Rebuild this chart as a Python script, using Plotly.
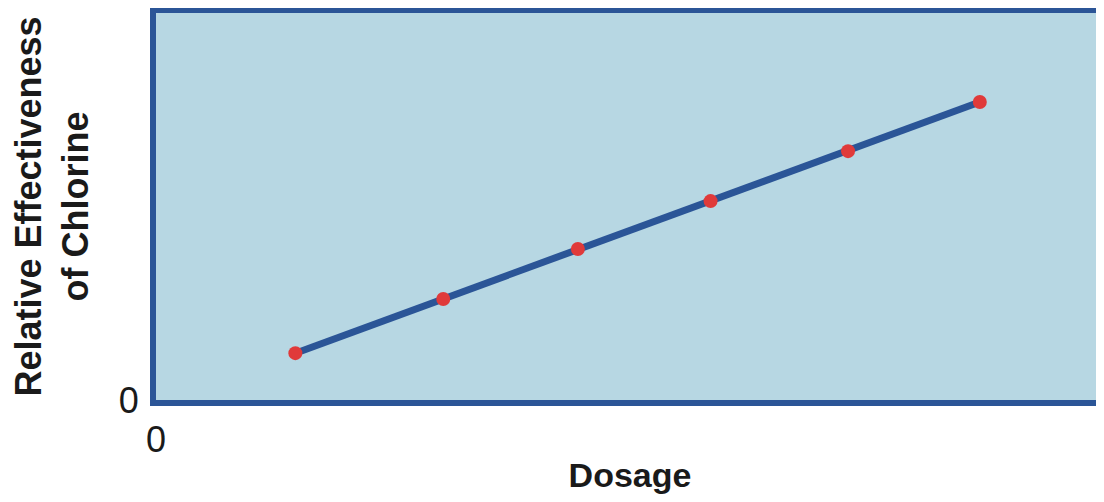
import plotly.graph_objects as go

dosage = [1.47, 3.03, 4.45, 5.85, 7.30, 8.69]
effectiveness = [1.21, 2.61, 3.90, 5.14, 6.43, 7.70]
x_tick_vals = [0]
x_tick_text = ["0"]
y_tick_vals = [0]
y_tick_text = ["0"]

BLUE = "#2b5597"
RED = "#e03a3a"
FILL = "#b7d7e3"
TEXT = "#1a1a1a"

fig = go.Figure()
fig.add_trace(go.Scatter(
    x=dosage, y=effectiveness, mode="lines+markers",
    line=dict(color=BLUE, width=7),
    marker=dict(color=RED, size=14),
    showlegend=False, hoverinfo="skip",
))

fig.update_layout(
    width=1096, height=486,
    margin=dict(l=148, r=0, t=5, b=94, autoexpand=False),
    paper_bgcolor="white", plot_bgcolor=FILL,
    font=dict(family="Liberation Sans, Arial, sans-serif", color=TEXT),
    xaxis=dict(
        range=[0, 10], showgrid=False, zeroline=False,
        showline=True, linecolor=BLUE, linewidth=6, mirror=True,
        tickvals=x_tick_vals, ticktext=x_tick_text,
        ticks="outside", ticklen=3, tickcolor="rgba(0,0,0,0)",
        tickfont=dict(size=36, color=TEXT),
        title=dict(text="<b>Dosage</b>", font=dict(size=34, color=TEXT), standoff=8),
        automargin=False,
    ),
    yaxis=dict(
        range=[0, 10], showgrid=False, zeroline=False,
        showline=True, linecolor=BLUE, linewidth=6, mirror=False,
        tickvals=y_tick_vals, ticktext=y_tick_text,
        ticks="outside", ticklen=4, tickcolor="rgba(0,0,0,0)",
        tickfont=dict(size=36, color=TEXT),
        title=dict(text="<b>Relative Effectiveness<br>of Chlorine</b>", font=dict(size=36, color=TEXT), standoff=28),
        automargin=False,
    ),
)

fig.write_html("out.html")
